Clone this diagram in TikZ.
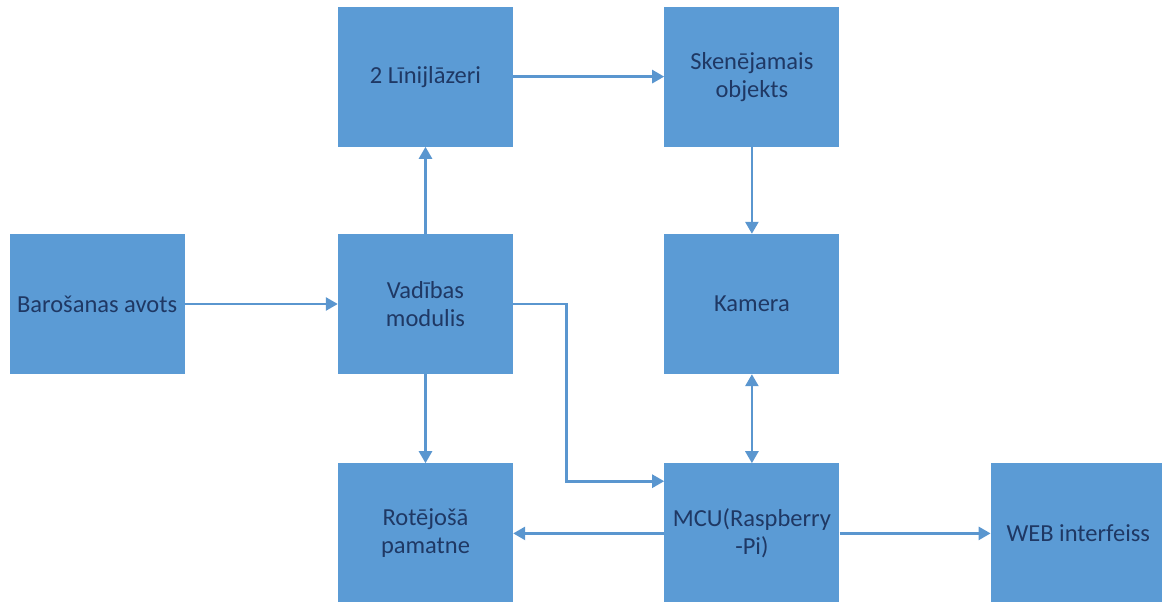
\documentclass[tikz,border=0pt]{standalone}
\usepackage{fontspec}
\setmainfont{Carlito}
\usetikzlibrary{positioning,arrows.meta}
\usepackage{xcolor}
\definecolor{boxblue}{HTML}{5B9BD5}
\definecolor{linkblue}{HTML}{5A96CF}
\definecolor{textnavy}{HTML}{1F3864}

\begin{document}
\begin{tikzpicture}
[x=1pt, y=1pt,
% The block style is used for every box of the scheme
block/.style={rectangle, fill=boxblue, inner sep=0pt, minimum width=175pt, minimum height=140pt, text=textnavy, align=center, font=\fontsize{24.5}{28}\selectfont},
% The link style is used for the arrows between boxes
link/.style={draw=linkblue, line width=2.6pt, -{Triangle[length=12pt,width=13pt]}},
dlink/.style={link, {Triangle[length=12pt,width=13pt]}-{Triangle[length=12pt,width=13pt]}}
]
\useasboundingbox (0,0) rectangle (1162,-602);
% Draw blocks
\node [block] (vadiba) at (425.5,-304) {Vadības\\modulis};
\node [block, left=153pt of vadiba] (barosana) {Barošanas avots};
\node [block, above=87pt of vadiba] (lazeri) {2 Līnijlāzeri};
\node [block, below=89pt of vadiba] (pamatne) {Rotējošā\\pamatne};
\node [block, right=151pt of lazeri] (objekts) {Skenējamais\\objekts};
\node [block, right=151pt of vadiba] (kamera) {Kamera};
\node [block, right=151pt of pamatne] (mcu) {MCU(Raspberry\\-Pi)};
\node [block, right=151pt of mcu] (web) {WEB interfeiss};
% Draw links
\draw[link] (barosana)--(vadiba);
\draw[link] (vadiba)--(lazeri);
\draw[link] (lazeri)--(objekts);
\draw[link] (objekts)--(kamera);
\draw[dlink] (kamera)--(mcu);
\draw[link] (vadiba)--(pamatne);
\draw[link] (vadiba.east)--++(53,0) |- ([yshift=-18pt]mcu.north west);
\draw[link] (mcu)--(pamatne);
\draw[link] (mcu)--(web);
\end{tikzpicture}
\end{document}
